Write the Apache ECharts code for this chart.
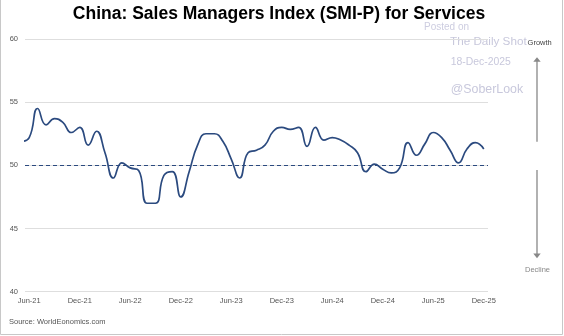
<!DOCTYPE html>
<html>
<head>
<meta charset="utf-8">
<script src="https://cdn.jsdelivr.net/npm/echarts@6/dist/echarts.min.js"></script>
<style>
html,body{margin:0;padding:0;background:#fff;}
#chart{width:564px;height:336px;}
</style>
</head>
<body>
<div id="chart"></div>
<script>
// Monthly categories (first month lies just left of the plot area and is clipped)
const months = [
  'May-21','Jun-21','Jul-21','Aug-21','Sep-21','Oct-21','Nov-21','Dec-21',
  'Jan-22','Feb-22','Mar-22','Apr-22','May-22','Jun-22','Jul-22','Aug-22','Sep-22','Oct-22','Nov-22','Dec-22',
  'Jan-23','Feb-23','Mar-23','Apr-23','May-23','Jun-23','Jul-23','Aug-23','Sep-23','Oct-23','Nov-23','Dec-23',
  'Jan-24','Feb-24','Mar-24','Apr-24','May-24','Jun-24','Jul-24','Aug-24','Sep-24','Oct-24','Nov-24','Dec-24',
  'Jan-25','Feb-25','Mar-25','Apr-25','May-25','Jun-25','Jul-25','Aug-25','Sep-25','Oct-25','Nov-25','Dec-25'
];
// SMI-P services values
const smiValues = [
  51.9, 52.2, 54.5, 53.2, 53.7, 53.4, 52.6, 53.0,
  51.6, 52.7, 51.0, 49.0, 50.2, 49.8, 49.6, 47.0, 47.0, 49.2, 49.5, 47.5,
  49.5, 51.6, 52.5, 52.5, 51.9, 50.5, 49.0, 51.0, 51.2, 51.6, 52.7, 53.0,
  52.85, 53.0, 51.5, 53.0, 52.0, 52.2, 52.0, 51.6, 51.0, 49.5, 50.1, 49.7,
  49.4, 49.8, 51.8, 50.8, 51.7, 52.6, 52.2, 51.2, 50.2, 51.3, 51.8, 51.3
];
const xTickLabels = ['Jun-21','Dec-21','Jun-22','Dec-22','Jun-23','Dec-23','Jun-24','Dec-24','Jun-25','Dec-25'];
const yMin = 40, yMax = 60, yStep = 5;
const threshold = 50;

const lineColor = '#2b4a7f';
const seriesData = smiValues.map((v, i) => [i, v]);
const xTickPositions = xTickLabels.map(l => months.indexOf(l));

const chart = echarts.init(document.getElementById('chart'), null, {renderer: 'canvas'});
const font = 'Liberation Sans, Arial, sans-serif';

chart.setOption({
  animation: false,
  textStyle: {fontFamily: font},
  grid: {left: 25, top: 39, width: 463, height: 252.7, containLabel: false},
  xAxis: {
    type: 'value',
    min: 0.5,
    max: months.length - 0.5,
    axisLine: {show: false},
    axisTick: {show: false},
    splitLine: {show: false},
    axisLabel: {
      customValues: xTickPositions,
      formatter: v => months[Math.round(v)],
      fontSize: 7.5,
      color: '#555',
      margin: 5,
      fontFamily: font
    }
  },
  yAxis: {
    type: 'value',
    min: yMin,
    max: yMax,
    interval: yStep,
    axisLine: {show: false},
    axisTick: {show: false},
    splitLine: {lineStyle: {color: '#dedede', width: 1}},
    axisLabel: {fontSize: 7.5, color: '#555', margin: 7, fontFamily: font}
  },
  series: [{
    type: 'line',
    data: seriesData,
    smooth: 0.5,
    showSymbol: false,
    clip: true,
    lineStyle: {color: lineColor, width: 1.7},
    markLine: {
      silent: true,
      symbol: 'none',
      label: {show: false},
      lineStyle: {color: lineColor, width: 1.2, type: [4, 3]},
      data: [{yAxis: threshold}]
    }
  }],
  graphic: [
    {type: 'text', x: 279, y: 14.4, style: {text: 'China: Sales Managers Index (SMI-P) for Services', font: 'bold 17.5px ' + font, fill: '#000', textAlign: 'center', textVerticalAlign: 'middle'}},
    {type: 'text', x: 424, y: 27.6, style: {text: 'Posted on', font: '10px ' + font, fill: '#cdcde0', textAlign: 'left', textVerticalAlign: 'middle'}},
    {type: 'text', x: 450, y: 41.7, style: {text: 'The Daily Shot', font: '11.7px ' + font, fill: '#c8c8dc', textAlign: 'left', textVerticalAlign: 'middle'}},
    {type: 'text', x: 450.7, y: 61.7, style: {text: '18-Dec-2025', font: '10.4px ' + font, fill: '#c8c8dc', textAlign: 'left', textVerticalAlign: 'middle'}},
    {type: 'text', x: 450.7, y: 89.3, style: {text: '@SoberLook', font: '12.4px ' + font, fill: '#c8c8dc', textAlign: 'left', textVerticalAlign: 'middle'}},
    {type: 'text', x: 539.7, y: 42.7, style: {text: 'Growth', font: '7.5px ' + font, fill: '#444', textAlign: 'center', textVerticalAlign: 'middle'}},
    {type: 'text', x: 537.5, y: 270, style: {text: 'Decline', font: '7.5px ' + font, fill: '#888', textAlign: 'center', textVerticalAlign: 'middle'}},
    {type: 'line', shape: {x1: 537, y1: 141.7, x2: 537, y2: 61}, style: {stroke: '#888', lineWidth: 1.3}},
    {type: 'polygon', shape: {points: [[537, 57.3], [533.3, 61.7], [540.7, 61.7]]}, style: {fill: '#888'}},
    {type: 'line', shape: {x1: 537, y1: 170, x2: 537, y2: 254}, style: {stroke: '#888', lineWidth: 1.3}},
    {type: 'polygon', shape: {points: [[537, 258.3], [533.3, 253.6], [540.7, 253.6]]}, style: {fill: '#888'}},
    {type: 'text', x: 9, y: 322.3, style: {text: 'Source: WorldEonomics.com', font: '7.5px ' + font, fill: '#555', textAlign: 'left', textVerticalAlign: 'middle'}},
    {type: 'polyline', shape: {points: [[0.5, 0], [0.5, 334.5], [562.5, 334.5], [562.5, 0]]}, style: {stroke: '#c8c8c8', lineWidth: 1, fill: null}}
  ]
});
</script>
</body>
</html>
